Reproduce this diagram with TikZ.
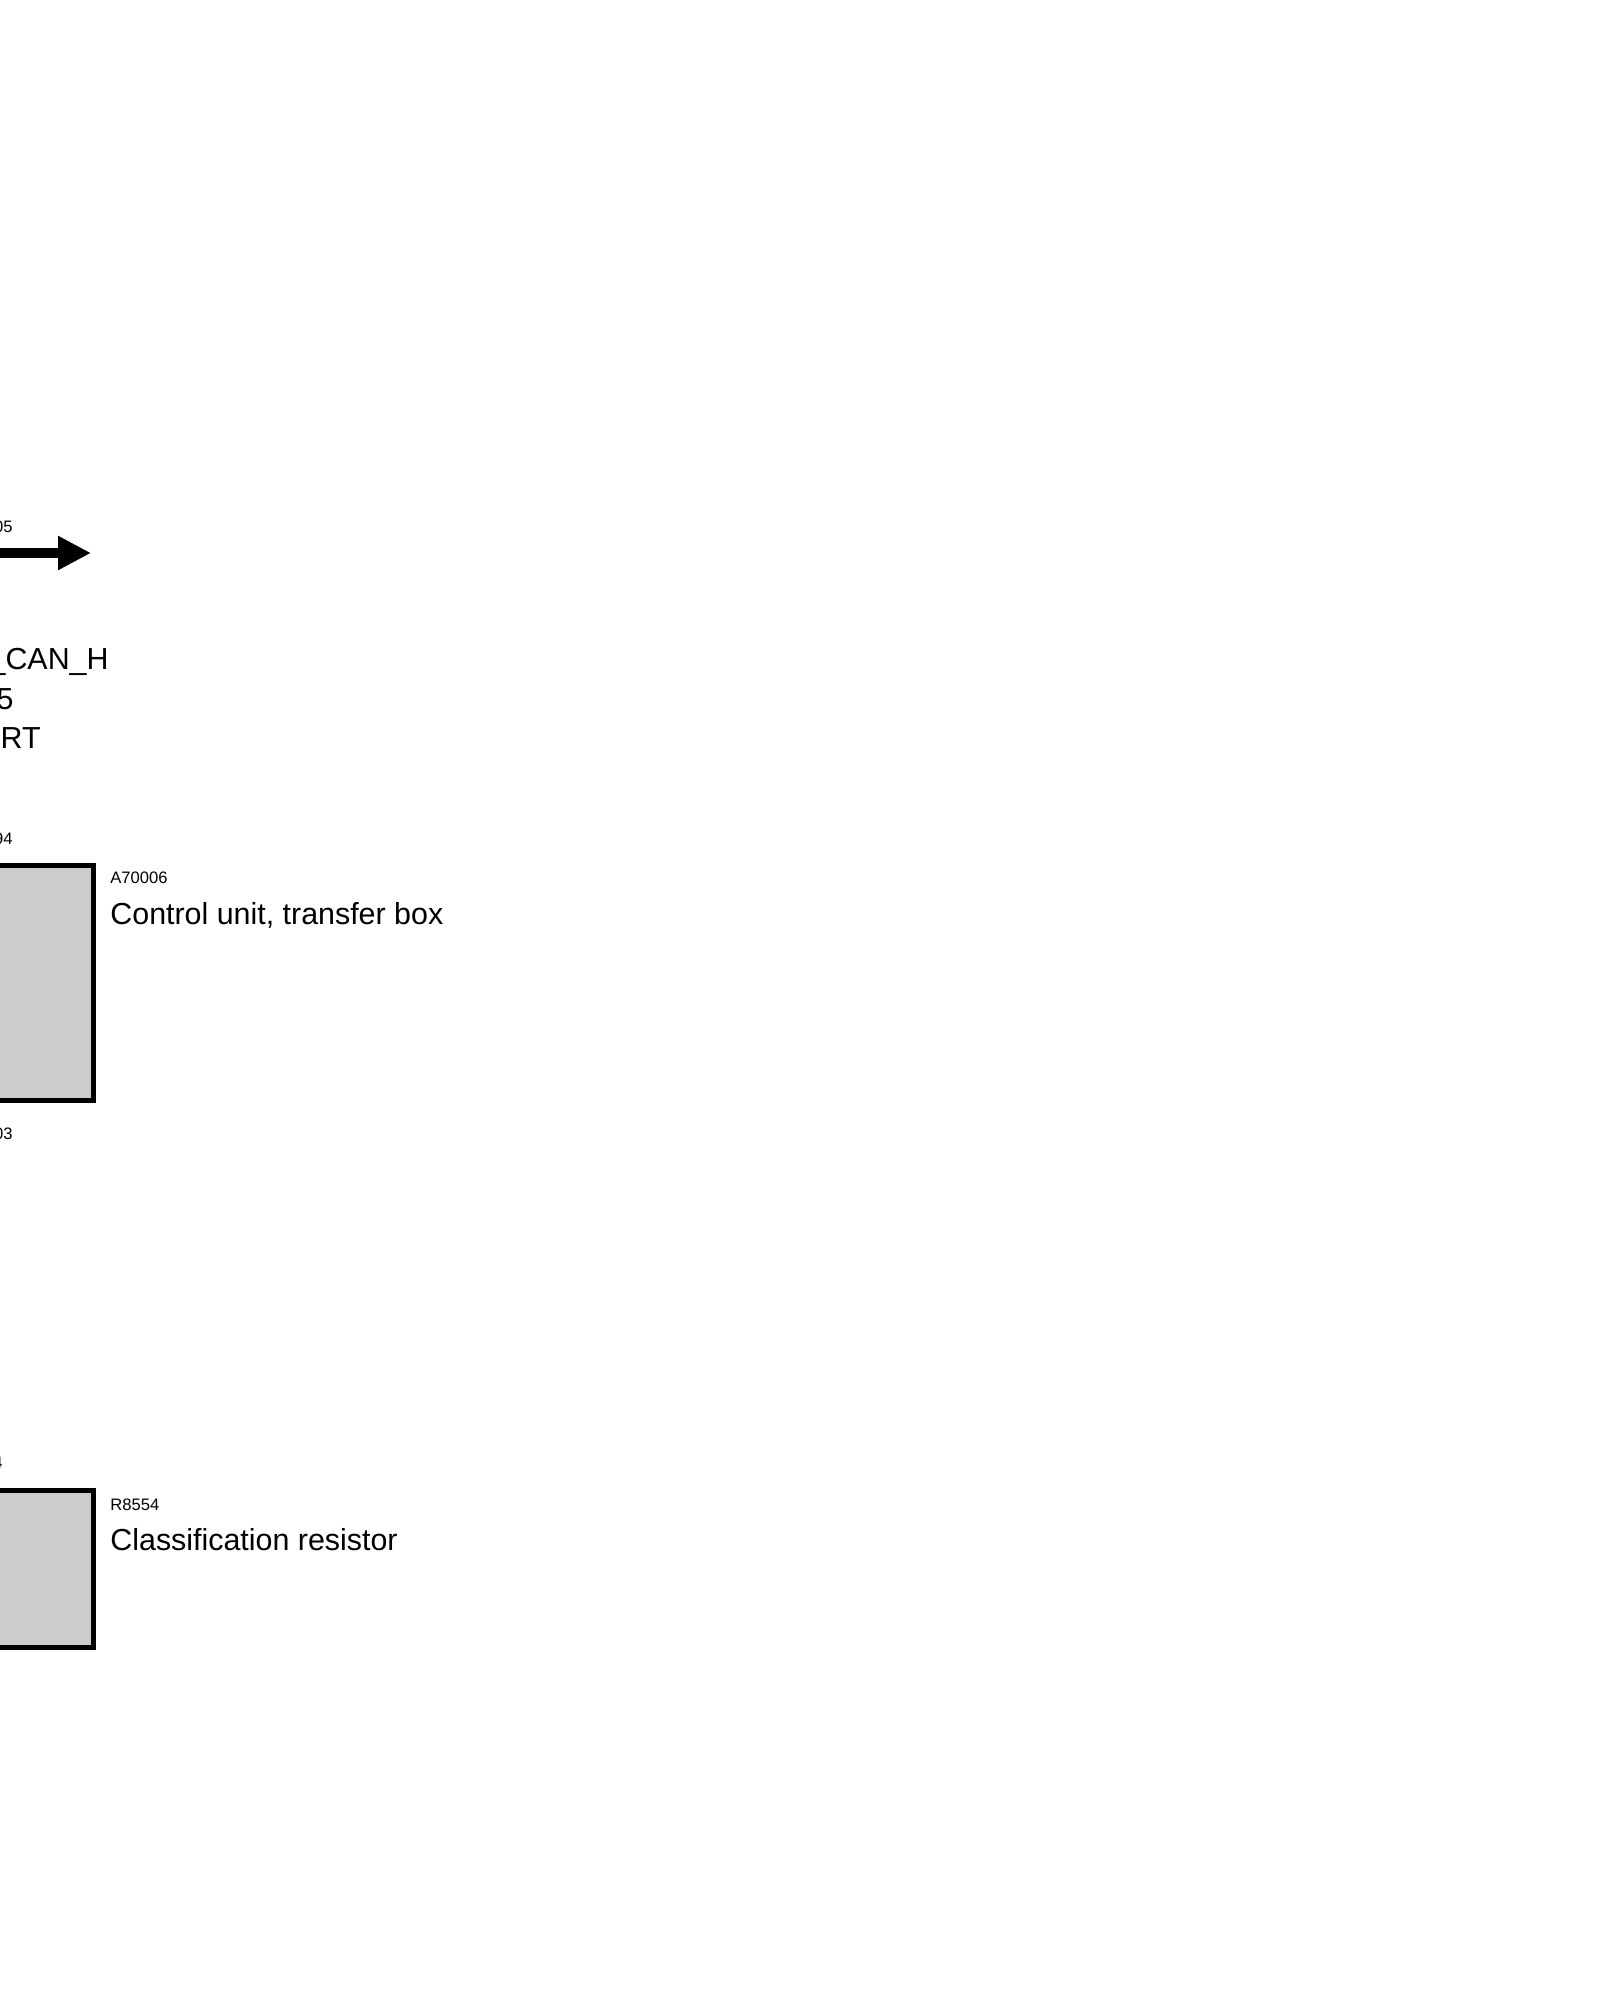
\documentclass[tikz,border=0pt]{standalone}
\usepackage{fontspec}
\setmainfont{Liberation Sans}
\usetikzlibrary{arrows.meta}

\tikzset{
  unitbox/.style={draw, line width=2.5pt, fill={rgb, 255:red, 204; green, 204; blue, 204}, inner sep=0pt, anchor=north east},
  pinlbl/.style={inner sep=0pt, anchor=base east, font=\fontsize{8.3}{10}\selectfont},
  codelbl/.style={inner sep=0pt, anchor=base west, font=\fontsize{8.3}{10}\selectfont},
  namelbl/.style={inner sep=0pt, anchor=base west, font=\fontsize{15.2}{18}\selectfont},
  siglbl/.style={inner sep=0pt, anchor=base east, font=\fontsize{15.2}{18}\selectfont}
}

\begin{document}
\begin{tikzpicture}[x=0.5pt,y=0.5pt,yscale=-1,xscale=1]
	\useasboundingbox (0,0) rectangle (1600,2000);
	% signal arrow
	\node[pinlbl] (pinfive) at (13,532) {05};
	\coordinate (arrowstart) at (-20,553);
	\coordinate (arrowtip) at (91,553);
	\draw [line width=5pt, -{Triangle[length=16.5pt,width=16pt]}] (arrowstart) -- (arrowtip);
	\node[siglbl] (sigcan) at (109,669) {\_CAN\_H};
	\node[siglbl] (signum) at (14,709) {5};
	\node[siglbl] (sigrt) at (41,748) {RT};
	% control unit
	\node[pinlbl] (pintop) at (13,844) {94};
	\node[unitbox, minimum width=57pt, minimum height=117.5pt] (tcu) at (96,863) {};
	\node[pinlbl] (pinbot) at (13,1139) {03};
	\node[codelbl] (tcucode) at (110,883) {A70006};
	\node[namelbl] (tcuname) at (110,924) {Control unit, transfer box};
	% resistor
	\node[pinlbl] (pinres) at (3,1468) {4};
	\node[unitbox, minimum width=57pt, minimum height=78.5pt] (res) at (96,1488) {};
	\node[codelbl] (rescode) at (110,1510) {R8554};
	\node[namelbl] (resname) at (110,1550) {Classification resistor};
\end{tikzpicture}
\end{document}
